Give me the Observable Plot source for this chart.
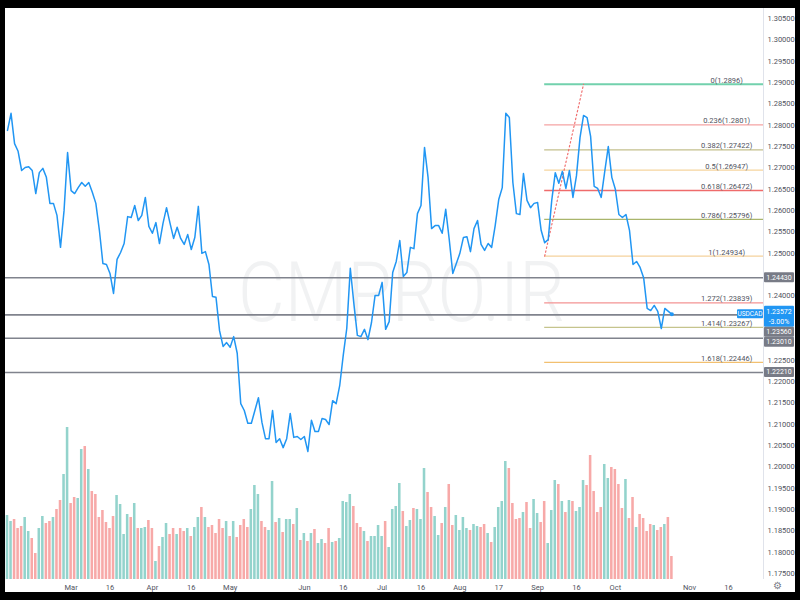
<!DOCTYPE html>
<html><head><meta charset="utf-8">
<script src="https://cdn.jsdelivr.net/npm/d3@7"></script>
<script src="https://cdn.jsdelivr.net/npm/@observablehq/plot@0.6"></script>
<style>
html,body{margin:0;padding:0;background:#000;width:800px;height:600px;overflow:hidden;}
#wrap{position:absolute;left:5px;top:8px;width:790px;height:584px;background:#fff;overflow:hidden;font-family:Roboto,"Liberation Sans",sans-serif;}
#vol,#price{position:absolute;left:0;top:0;}
#gear{position:absolute;left:768px;top:573px;font-size:10px;line-height:10px;color:#787b86;}
</style></head><body>
<div id="wrap"><div id="vol"></div><div id="price"></div><div id="gear">⚙</div></div>
<script>
// ---- data ----
const closes = [
1.2788,1.2828,1.2757,1.2739,1.2694,1.2701,1.2703,1.2694,1.2640,1.2689,
1.2699,1.2678,1.2617,1.2617,1.2589,1.2514,1.2600,1.2736,1.2647,1.2640,
1.2654,1.2666,1.2657,1.2666,1.2643,1.2617,1.2554,1.2476,1.2474,1.2453,
1.2406,1.2486,1.2502,1.2523,1.2586,1.2584,1.2612,1.2577,1.2589,1.2631,
1.2563,1.2547,1.2572,1.2523,1.2570,1.2607,1.2570,1.2535,1.2561,1.2535,
1.2521,1.2544,1.2509,1.2537,1.2610,1.2500,1.2504,1.2474,1.2399,1.2397,
1.2319,1.2282,1.2291,1.2280,1.2305,1.2266,1.2148,1.2132,1.2102,1.2102,
1.2132,1.2162,1.2104,1.2066,1.2066,1.2132,1.2057,1.2066,1.2045,1.2066,
1.2125,1.2069,1.2071,1.2064,1.2071,1.2036,1.2109,1.2083,1.2083,1.2113,
1.2111,1.2099,1.2155,1.2148,1.2190,1.2261,1.2324,1.2465,1.2383,1.2308,
1.2305,1.2322,1.2298,1.2338,1.2401,1.2401,1.2432,1.2322,1.2340,1.2455,
1.2481,1.2530,1.2446,1.2455,1.2514,1.2511,1.2593,1.2612,1.2748,1.2678,
1.2558,1.2565,1.2565,1.2547,1.2603,1.2532,1.2453,1.2476,1.2500,1.2537,
1.2539,1.2504,1.2558,1.2577,1.2521,1.2507,1.2523,1.2514,1.2565,1.2626,
1.2654,1.2828,1.2818,1.2666,1.2593,1.2591,1.2687,1.2624,1.2607,1.2617,
1.2619,1.2554,1.2525,1.2532,1.2624,1.2689,1.2664,1.2692,1.2652,1.2694,
1.2631,1.2682,1.2771,1.2823,1.2818,1.2774,1.2657,1.2652,1.2631,1.2692,
1.2750,1.2678,1.2650,1.2591,1.2584,1.2591,1.2554,1.2474,1.2481,1.2467,
1.2443,1.2371,1.2366,1.2378,1.2364,1.2324,1.2371,1.2364,1.23572];
const volumes = [
64,58,60,51,53,62,48,41,26,51,
63,56,58,62,70,79,105,152,76,82,
81,130,133,110,88,85,62,69,57,51,
63,84,75,45,65,62,76,51,51,52,
59,51,18,33,42,56,45,51,45,51,
48,51,43,52,62,72,62,52,54,46,
60,51,58,43,58,42,54,60,52,70,
94,85,58,52,49,98,57,61,47,60,
60,55,71,39,46,38,46,50,36,40,
36,51,37,38,41,78,77,85,73,56,
52,48,38,43,43,54,43,58,32,70,
73,96,68,53,59,71,70,60,111,87,
72,63,44,56,72,95,54,64,49,62,
51,49,55,53,52,55,46,37,52,72,
78,118,111,76,60,61,67,77,51,80,
66,57,78,36,69,99,95,78,67,79,
78,68,72,99,94,124,88,67,72,115,
101,112,110,95,71,100,61,82,52,65,
61,48,55,54,49,52,55,62,23];
const tickIndex  = [18,29,41,52,63,84,95,106,117,128,139,150,161,172,193,204];
const tickLabels = ["Mar","16","Apr","16","May","Jun","16","Jul","16","Aug","17","Sep","16","Oct","Nov","16"];
const priceTicks = [1.175,1.18,1.185,1.19,1.195,1.2,1.205,1.21,1.215,1.22,1.225,1.23,1.235,1.24,1.245,1.25,1.255,1.26,1.265,1.27,1.275,1.28,1.285,1.29,1.295,1.3,1.305];
const fibRatios = [0,0.236,0.382,0.5,0.618,0.786,1,1.272,1.414,1.618];
const fibPrices = [1.2896,1.2801,1.27422,1.26947,1.26472,1.25796,1.24934,1.23839,1.23267,1.22446];
const fibColors = ["#72d1ad","#f5a3a3","#c3bf8c","#f6d59e","#ef6b6b","#a9b56b","#f5d29c","#f39393","#c5c48d","#f2c070"];
const fibAnchorIdx = [152,163];
const fibAnchorPrice = [1.24934,1.2896];
const hLines = [1.2443,1.2356,1.2301,1.2221];
const hLineLabels = ["1.24430","1.23560","1.23010","1.22210"];
const symbol = "USDCAD";
const lastChange = "-3.00%";
const watermark = "CMPRO.IR";

// ---- layout ----
const W = 790, H = 584, mR = 32, mB = 13;
const xDomain = [-0.566, 213.92];
const yDomain = [1.17362, 1.30734];
const upColor = "#93d3cc", downColor = "#f7a9a8";

const series = closes.map((c, i) => ({i, c}));
const vdata = volumes.map((v, i) => ({i, v, color: (i === 0 || closes[i] >= closes[i-1]) ? upColor : downColor}));
const fib = fibRatios.map((r, k) => ({r, p: fibPrices[k], color: fibColors[k], label: `${r}(${fibPrices[k]})`}));
const anchors = fibAnchorIdx.map((i, k) => ({i, p: fibAnchorPrice[k]}));

const vol = Plot.plot({
  width: W, height: H, marginLeft: 0, marginRight: mR, marginTop: H - mB - 200, marginBottom: mB,
  style: {background: "transparent"},
  x: {domain: xDomain, axis: null},
  y: {domain: [0, 200], axis: null},
  color: {type: "identity"},
  marks: [
    Plot.rectY(vdata, {x1: d => d.i - 0.36, x2: d => d.i + 0.36, y: "v", fill: "color"})
  ]
});
document.getElementById("vol").appendChild(vol);

const price = Plot.plot({
  width: W, height: H, marginLeft: 0, marginRight: mR, marginTop: 0, marginBottom: mB,
  style: {background: "transparent", fontFamily: "Roboto, 'Liberation Sans', sans-serif", fontSize: "7.5px", color: "#50535e", overflow: "visible"},
  x: {domain: xDomain, ticks: tickIndex, tickFormat: d => tickLabels[tickIndex.indexOf(d)], tickSize: 0, tickPadding: 5, label: null},
  y: {domain: yDomain, axis: "right", ticks: priceTicks, tickFormat: d => d.toFixed(5), tickSize: 0, tickPadding: 4, label: null},
  color: {type: "identity"},
  marks: [
    Plot.text([watermark], {text: d => d, frameAnchor: "middle", dx: 17, fontSize: 84, fontWeight: 300, fill: "#787b86", fillOpacity: 0.1}),
    Plot.ruleX([xDomain[1]], {stroke: "#e0e3eb"}),
    Plot.ruleY(hLines, {stroke: "#80838d", strokeWidth: 1.6}),
    Plot.ruleY(fib, {y: "p", x1: fibAnchorIdx[0], x2: xDomain[1], stroke: "color", strokeWidth: d => d.r === 0 ? 2 : 1.3}),
    Plot.text(fib, {x: 203.5, y: "p", text: "label", lineAnchor: "bottom", dy: -1.5, fontSize: 7.5, fill: "#50535e"}),
    Plot.line(anchors, {x: "i", y: "p", stroke: "#f07070", strokeWidth: 1.2, strokeDasharray: "1.5,2.5"}),
    Plot.line(series, {x: "i", y: "c", stroke: "#2196f3", strokeWidth: 1.5}),
    Plot.dot([series[series.length - 1]], {x: "i", y: "c", r: 2, fill: "#2196f3"})
  ]
});
document.getElementById("price").appendChild(price);

// watermark width
d3.select(price).selectAll("text").filter(function(){ return this.textContent === watermark; })
  .attr("textLength", 327).attr("lengthAdjust", "spacingAndGlyphs");

// price-axis label boxes, positioned through the y scale
const ys = price.scale("y");
const svg = d3.select(price);
const axX = W - mR;
const last = series[series.length - 1];
const yl = ys.apply(last.c);
let boxes = hLines.map((v, k) => ({y: ys.apply(v), top: ys.apply(v) - 5, h: 10, fill: "#787b86", lines: [hLineLabels[k]]}));
boxes.push({y: yl, top: yl - 8, h: 21, fill: "#2196f3", lines: [last.c.toFixed(5), lastChange]});
boxes.sort((a, b) => a.top - b.top);
let prevBottom = -Infinity;
for (const b of boxes) {
  if (b.top < prevBottom) b.top = prevBottom;
  prevBottom = b.top + b.h;
}
// tick labels lying under a label box are covered by it in the reference, so they are not drawn
priceTicks.forEach(t => {
  const ty = ys.apply(t);
  if (boxes.some(b => ty > b.top - 1 && ty < b.top + b.h + 1)) {
    svg.selectAll("text").filter(function(){ return this.textContent === t.toFixed(5); }).remove();
  }
});
const g = svg.append("g").attr("font-family", "Roboto, 'Liberation Sans', sans-serif").attr("font-size", 7).attr("text-anchor", "middle");
for (const b of boxes) {
  g.append("rect").attr("x", axX + 1).attr("y", b.top).attr("width", 30).attr("height", b.h).attr("rx", 1).attr("fill", b.fill);
  b.lines.forEach((t, k) => {
    g.append("text").attr("x", axX + 16).attr("y", b.top + 5 + k * 9.5 + (b.h > 10 ? 1 : 0)).attr("dy", "0.35em").attr("fill", "#fff").text(t);
  });
}
g.append("rect").attr("x", axX - 26).attr("y", yl - 4.5).attr("width", 26).attr("height", 9).attr("rx", 1).attr("fill", "#2196f3");
g.append("text").attr("x", axX - 13).attr("y", yl).attr("dy", "0.35em").attr("font-size", 6.5).attr("fill", "#fff").text(symbol);
</script>
</body></html>
